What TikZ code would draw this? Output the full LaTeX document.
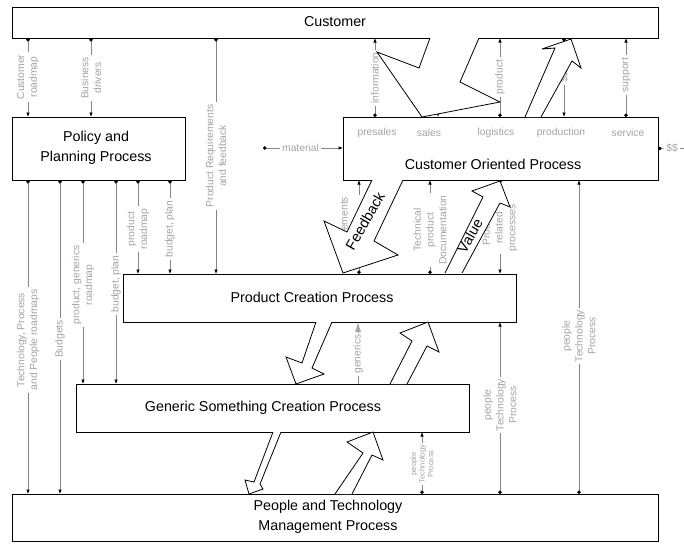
\documentclass[tikz,border=0pt]{standalone}
\usepackage{fontspec}
\setmainfont{Liberation Sans}
\usetikzlibrary{arrows.meta}
\definecolor{linegray}{HTML}{858585}
\definecolor{labelgray}{HTML}{A3A3A3}
% a labelled flow: dot at the source, label breaking the line, arrow at the target
\newcommand{\flowvia}[3]{%
  \draw[flowfrom] #1 -- (#2);
  \draw[flowto] (#2) -- #3;}
\begin{document}
\begin{tikzpicture}[x=1pt,y=-1pt,
  fdot/.tip={Circle[length=3.6pt,color=black]},
  fhead/.tip={Latex[length=4.5pt,width=3.4pt,color=black]},
  proc/.style={draw=black,line width=0.9pt,inner sep=0pt,outer sep=0pt},
  ptext/.style={font=\fontsize{14.3}{19.5}\selectfont,align=center,inner sep=0pt},
  lbl/.style={text=labelgray,font=\fontsize{10.3}{12.8}\selectfont,align=center,rotate=90,inner sep=2.2pt},
  tinylbl/.style={text=labelgray,font=\fontsize{7.6}{8.6}\selectfont,align=center,rotate=90,inner sep=1.8pt},
  sublbl/.style={text=labelgray,font=\fontsize{10.3}{12}\selectfont,inner sep=2.2pt},
  plainflow/.style={draw=linegray,line width=0.6pt},
  flowto/.style={plainflow,-fhead},
  flowfrom/.style={plainflow,fdot-},
  fat/.style={draw=black,line width=0.8pt,fill=white,line join=miter,miter limit=4},
  fattext/.style={font=\fontsize{14.5}{16}\selectfont,inner sep=0pt,rotate=60},
]
\useasboundingbox (0,0) rectangle (684,544);

% process boxes
\node[proc,minimum width=646pt,minimum height=31pt] (cust) at (335,22.5) {};
\node[proc,minimum width=173pt,minimum height=63pt] (pol)  at (98.5,148.5) {};
\node[proc,minimum width=315pt,minimum height=63pt] (cop)  at (500.5,148.5) {};
\node[proc,minimum width=393pt,minimum height=48pt] (pcp)  at (319.5,298) {};
\node[proc,minimum width=393pt,minimum height=48pt] (gscp) at (272.5,408) {};
\node[proc,minimum width=646pt,minimum height=47pt] (ptm)  at (335,517.5) {};

% box titles
\node[ptext] (custT) at (335,22) {Customer};
\node[ptext] (polT)  at (96,148) {Policy and\\Planning Process};
\node[ptext] (copT)  at (493,164) {Customer Oriented Process};
\node[ptext] (pcpT)  at (312,297) {Product Creation Process};
\node[ptext] (gscpT) at (263,408) {Generic Something Creation Process};
\node[ptext] (ptmT)  at (328,517) {People and Technology\\Management Process};

% customer oriented sub-processes
\node[sublbl] (sPre)  at (377,133) {presales};
\node[sublbl] (sSal)  at (429,133) {sales};
\node[sublbl] (sLog)  at (496,133) {logistics};
\node[sublbl] (sProd) at (561,133) {production};
\node[sublbl] (sSer)  at (628,133) {service};

% customer to policy and product creation
\node[lbl] (lCR) at (28,77) {Customer\\roadmap};
\flowvia{(lCR |- cust.south)}{lCR}{(lCR |- pol.north)}
\node[lbl] (lBD) at (91,78) {Business\\drivers};
\flowvia{(lBD |- cust.south)}{lBD}{(lBD |- pol.north)}
\node[lbl] (lPR) at (216,156) {Product Requirements\\and feedback};
\flowvia{(lPR |- cust.south)}{lPR}{(lPR |- pcp.north)}

% customer oriented process to customer
\node[lbl] (lInf) at (375,78) {information};
\flowvia{(lInf |- cop.north)}{lInf}{(lInf |- cust.south)}
\coordinate (salesX) at (438,80);
\draw[plainflow,fdot-fhead] (salesX |- cust.south) -- (salesX |- cop.north);
\node[lbl] (lProd) at (500,77) {product};
\flowvia{(lProd |- cop.north)}{lProd}{(lProd |- cust.south)}
\node[lbl] (lPay) at (564,77) {\$\$};
\flowvia{(lPay |- cust.south)}{lPay}{(lPay |- cop.north)}
\node[lbl] (lSup) at (626,75) {support};
\flowvia{(lSup |- cop.north)}{lSup}{(lSup |- cust.south)}

% material in, money out
\coordinate (matS) at (263,148);
\node[sublbl] (lMat) at (300.5,148) {material};
\flowvia{(matS)}{lMat}{(matS -| cop.west)}
\node[sublbl] (lOut) at (672,148) {\$\$};
\coordinate (outE) at (684,148);
\draw[flowfrom] (cop.east) -- (lOut);
\draw[plainflow] (lOut) -- (outE);

% policy and planning outputs
\node[lbl] (lTR) at (28,340) {Technology, Process\\and People roadmaps};
\flowvia{(lTR |- pol.south)}{lTR}{(lTR |- ptm.north)}
\node[lbl] (lBu) at (60,339) {Budgets};
\flowvia{(lBu |- pol.south)}{lBu}{(lBu |- ptm.north)}
\node[lbl] (lPG) at (83,285) {product, generics\\roadmap};
\flowvia{(lPG |- pol.south)}{lPG}{(lPG |- gscp.north)}
\node[lbl] (lBP1) at (116,284) {budget, plan};
\flowvia{(lBP1 |- pol.south)}{lBP1}{(lBP1 |- gscp.north)}
\node[lbl] (lPRm) at (138,229) {product\\roadmap};
\flowvia{(lPRm |- pol.south)}{lPRm}{(lPRm |- pcp.north)}
\node[lbl] (lBP2) at (170,229) {budget, plan};
\flowvia{(lBP2 |- pol.south)}{lBP2}{(lBP2 |- pcp.north)}

% between customer oriented process and product creation
\coordinate (reqX) at (359,229);
\node[lbl] (lReq) at (345,229) {Requirements};
\draw[flowfrom] (reqX |- pcp.north) -- (reqX |- lReq.west);
\draw[flowto] (reqX |- lReq.east) -- (reqX |- cop.south);
\node[lbl] (lTD) at (430,230) {Technical\\product\\Documentation};
\flowvia{(lTD |- pcp.north)}{lTD}{(lTD |- cop.south)}
\node[lbl] (lPRP) at (500,228) {Product\\related\\processes};
\flowvia{(lPRP |- cop.south)}{lPRP}{(lPRP |- pcp.north)}

% people and technology management outputs
\node[lbl] (lPT1) at (579,336) {people\\Technology\\Process};
\flowvia{(lPT1 |- ptm.north)}{lPT1}{(lPT1 |- cop.south)}
\node[lbl] (lPT2) at (500,405) {people\\Technology\\Process};
\flowvia{(lPT2 |- ptm.north)}{lPT2}{(lPT2 |- pcp.south)}
\node[tinylbl] (lPT3) at (422,464) {people\\Technology\\Process};
\flowvia{(lPT3 |- ptm.north)}{lPT3}{(lPT3 |- gscp.south)}

% generics into product creation
\node[lbl] (lGen) at (358,354) {generics};
\draw[plainflow] (lGen |- gscp.north) -- (lGen);
\draw[plainflow,-{Latex[length=10pt,width=6pt,color=labelgray]}] (lGen) -- (lGen |- pcp.south);

% block arrows: feedback down, value up
\draw[fat] (430,38) -- (419,68) -- (377,52) -- (422,117) -- (500,102) -- (460,82) -- (479,38);
\draw[fat] (372,180) -- (347,232) -- (324,221) -- (343,273) -- (398,255) -- (374,241) -- (403,180);
\draw[fat] (445,273) -- (483,197) -- (472,191) -- (500,181) -- (510,207) -- (500,203) -- (462,273);
\draw[fat] (316,322) -- (302,363) -- (286,357) -- (296,384) -- (324,374) -- (312,368) -- (332,322);
\draw[fat] (390,384) -- (412,341) -- (400,333) -- (428,322) -- (439,352) -- (427,346) -- (407,384);
\draw[fat] (273,432) -- (254,482) -- (245,480) -- (249,494) -- (263,489) -- (260,484) -- (281,432);
\draw[fat] (335,494) -- (363,453) -- (347,442) -- (373,432) -- (383,460) -- (372,455) -- (352,494);
\draw[fat] (525,117) -- (555,48) -- (542,49) -- (571,39) -- (581,68) -- (572,61) -- (541,117);

\node[fattext] (fbT)  at (365,221) {Feedback};
\node[fattext] (valT) at (470,236) {Value};
\end{tikzpicture}
\end{document}
